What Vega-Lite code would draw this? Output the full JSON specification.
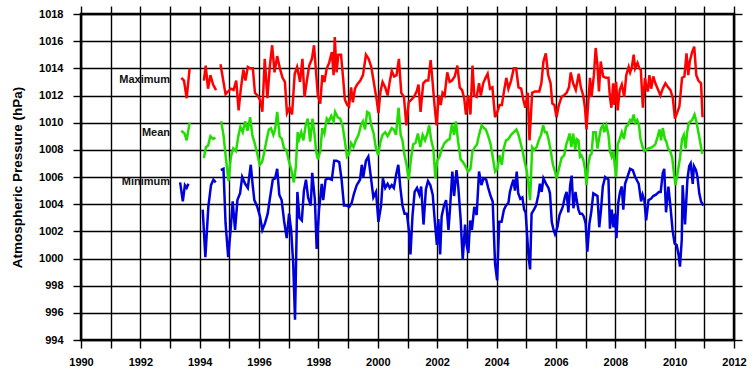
{
  "$schema": "https://vega.github.io/schema/vega-lite/v6.json",
  "width": 653,
  "height": 326,
  "autosize": "none",
  "padding": {"left": 81, "top": 14, "right": 18, "bottom": 39},
  "background": "white",
  "config": {
    "view": {"stroke": "black", "strokeWidth": 2.5},
    "font": "Liberation Sans",
    "axis": {
      "gridColor": "black", "gridWidth": 1.4, "gridOpacity": 1,
      "tickColor": "black", "tickWidth": 1.4, "tickSize": 8,
      "domain": false,
      "labelFont": "Liberation Sans", "labelFontWeight": "bold", "labelFontSize": 11, "labelColor": "black",
      "titleFont": "Liberation Sans", "titleFontWeight": "bold", "titleFontSize": 13.5, "titleColor": "black"
    }
  },
  "datasets": {
    "maximum": [
      {"year":1993.38,"value":1013.3,"seg":1},{"year":1993.47,"value":1013.1,"seg":1},{"year":1993.56,"value":1011.8,"seg":1},{"year":1993.66,"value":1014.0,"seg":1},
      {"year":1994.14,"value":1013.1,"seg":2},{"year":1994.20,"value":1014.2,"seg":2},{"year":1994.28,"value":1012.5,"seg":2},{"year":1994.36,"value":1013.5,"seg":2},{"year":1994.45,"value":1012.8,"seg":2},{"year":1994.55,"value":1012.4,"seg":2},
      {"year":1994.70,"value":1014.3,"seg":3},{"year":1994.87,"value":1012.1,"seg":3},{"year":1994.96,"value":1012.3,"seg":3},{"year":1995.05,"value":1012.5,"seg":3},{"year":1995.14,"value":1012.4,"seg":3},{"year":1995.23,"value":1013.1,"seg":3},{"year":1995.31,"value":1010.9,"seg":3},{"year":1995.38,"value":1012.4,"seg":3},{"year":1995.47,"value":1013.9,"seg":3},{"year":1995.54,"value":1013.1,"seg":3},{"year":1995.62,"value":1014.1,"seg":3},{"year":1995.70,"value":1014.0,"seg":3},{"year":1995.79,"value":1014.0,"seg":3},{"year":1995.86,"value":1012.2,"seg":3},{"year":1995.95,"value":1012.0,"seg":3},
      {"year":1996.03,"value":1011.7,"seg":3},{"year":1996.11,"value":1010.8,"seg":3},{"year":1996.19,"value":1014.7,"seg":3},{"year":1996.28,"value":1011.8,"seg":3},{"year":1996.36,"value":1014.1,"seg":3},{"year":1996.44,"value":1015.7,"seg":3},{"year":1996.52,"value":1013.7,"seg":3},{"year":1996.61,"value":1014.9,"seg":3},{"year":1996.70,"value":1014.0,"seg":3},{"year":1996.79,"value":1013.3,"seg":3},{"year":1996.87,"value":1013.0,"seg":3},{"year":1996.94,"value":1010.7,"seg":3},
      {"year":1997.03,"value":1011.1,"seg":3},{"year":1997.11,"value":1010.6,"seg":3},{"year":1997.20,"value":1013.6,"seg":3},{"year":1997.28,"value":1014.1,"seg":3},{"year":1997.38,"value":1013.0,"seg":3},{"year":1997.46,"value":1014.7,"seg":3},{"year":1997.53,"value":1011.9,"seg":3},{"year":1997.61,"value":1013.1,"seg":3},{"year":1997.69,"value":1014.2,"seg":3},{"year":1997.78,"value":1014.7,"seg":3},{"year":1997.85,"value":1015.7,"seg":3},{"year":1997.91,"value":1014.0,"seg":3},{"year":1997.98,"value":1012.0,"seg":3},
      {"year":1998.06,"value":1011.4,"seg":3},{"year":1998.13,"value":1013.5,"seg":3},{"year":1998.20,"value":1013.0,"seg":3},{"year":1998.28,"value":1014.0,"seg":3},{"year":1998.36,"value":1014.4,"seg":3},{"year":1998.45,"value":1015.2,"seg":3},{"year":1998.51,"value":1013.5,"seg":3},{"year":1998.55,"value":1016.3,"seg":3},{"year":1998.61,"value":1013.7,"seg":3},{"year":1998.67,"value":1015.0,"seg":3},{"year":1998.76,"value":1015.0,"seg":3},{"year":1998.83,"value":1013.3,"seg":3},{"year":1998.89,"value":1011.7,"seg":3},{"year":1998.97,"value":1011.3,"seg":3},
      {"year":1999.03,"value":1011.2,"seg":3},{"year":1999.10,"value":1012.6,"seg":3},{"year":1999.16,"value":1011.5,"seg":3},{"year":1999.23,"value":1012.5,"seg":3},{"year":1999.30,"value":1012.8,"seg":3},{"year":1999.41,"value":1013.1,"seg":3},{"year":1999.50,"value":1013.5,"seg":3},{"year":1999.60,"value":1015.0,"seg":3},{"year":1999.69,"value":1014.7,"seg":3},{"year":1999.78,"value":1014.1,"seg":3},{"year":1999.87,"value":1012.9,"seg":3},{"year":1999.96,"value":1011.7,"seg":3},
      {"year":2000.02,"value":1010.7,"seg":3},{"year":2000.09,"value":1012.3,"seg":3},{"year":2000.16,"value":1013.0,"seg":3},{"year":2000.25,"value":1012.6,"seg":3},{"year":2000.33,"value":1012.0,"seg":3},{"year":2000.40,"value":1013.0,"seg":3},{"year":2000.47,"value":1013.8,"seg":3},{"year":2000.55,"value":1013.4,"seg":3},{"year":2000.63,"value":1013.5,"seg":3},{"year":2000.71,"value":1014.7,"seg":3},{"year":2000.79,"value":1012.2,"seg":3},{"year":2000.88,"value":1011.9,"seg":3},{"year":2000.96,"value":1009.8,"seg":3},
      {"year":2001.04,"value":1011.5,"seg":3},{"year":2001.13,"value":1011.7,"seg":3},{"year":2001.22,"value":1011.9,"seg":3},{"year":2001.31,"value":1012.3,"seg":3},{"year":2001.37,"value":1012.8,"seg":3},{"year":2001.44,"value":1010.8,"seg":3},{"year":2001.53,"value":1012.9,"seg":3},{"year":2001.62,"value":1013.1,"seg":3},{"year":2001.70,"value":1013.1,"seg":3},{"year":2001.78,"value":1014.6,"seg":3},{"year":2001.85,"value":1012.9,"seg":3},{"year":2001.91,"value":1011.3,"seg":3},{"year":2001.98,"value":1009.8,"seg":3},
      {"year":2002.05,"value":1012.0,"seg":3},{"year":2002.12,"value":1011.3,"seg":3},{"year":2002.18,"value":1012.2,"seg":3},{"year":2002.25,"value":1012.0,"seg":3},{"year":2002.34,"value":1013.7,"seg":3},{"year":2002.42,"value":1013.0,"seg":3},{"year":2002.50,"value":1013.1,"seg":3},{"year":2002.59,"value":1013.4,"seg":3},{"year":2002.68,"value":1014.2,"seg":3},{"year":2002.76,"value":1012.6,"seg":3},{"year":2002.84,"value":1012.4,"seg":3},{"year":2002.91,"value":1011.8,"seg":3},{"year":2002.97,"value":1010.6,"seg":3},
      {"year":2003.04,"value":1012.0,"seg":3},{"year":2003.12,"value":1010.6,"seg":3},{"year":2003.19,"value":1014.2,"seg":3},{"year":2003.25,"value":1012.0,"seg":3},{"year":2003.33,"value":1011.9,"seg":3},{"year":2003.41,"value":1012.9,"seg":3},{"year":2003.47,"value":1012.0,"seg":3},{"year":2003.55,"value":1012.9,"seg":3},{"year":2003.63,"value":1013.3,"seg":3},{"year":2003.70,"value":1013.6,"seg":3},{"year":2003.78,"value":1012.5,"seg":3},{"year":2003.86,"value":1012.6,"seg":3},{"year":2003.95,"value":1010.4,"seg":3},
      {"year":2004.03,"value":1010.8,"seg":3},{"year":2004.10,"value":1011.3,"seg":3},{"year":2004.18,"value":1011.3,"seg":3},{"year":2004.25,"value":1012.3,"seg":3},{"year":2004.33,"value":1013.3,"seg":3},{"year":2004.40,"value":1012.5,"seg":3},{"year":2004.49,"value":1013.1,"seg":3},{"year":2004.58,"value":1014.0,"seg":3},{"year":2004.66,"value":1014.0,"seg":3},{"year":2004.74,"value":1012.6,"seg":3},{"year":2004.83,"value":1012.5,"seg":3},{"year":2004.90,"value":1011.7,"seg":3},{"year":2004.97,"value":1011.1,"seg":3},
      {"year":2005.05,"value":1012.2,"seg":3},{"year":2005.11,"value":1008.7,"seg":3},{"year":2005.20,"value":1012.2,"seg":3},{"year":2005.29,"value":1012.3,"seg":3},{"year":2005.37,"value":1012.3,"seg":3},{"year":2005.44,"value":1012.3,"seg":3},{"year":2005.51,"value":1012.9,"seg":3},{"year":2005.58,"value":1014.5,"seg":3},{"year":2005.66,"value":1015.1,"seg":3},{"year":2005.74,"value":1013.5,"seg":3},{"year":2005.82,"value":1012.9,"seg":3},{"year":2005.88,"value":1011.4,"seg":3},{"year":2005.95,"value":1011.3,"seg":3},
      {"year":2006.02,"value":1010.4,"seg":3},{"year":2006.10,"value":1011.3,"seg":3},{"year":2006.19,"value":1011.9,"seg":3},{"year":2006.27,"value":1012.0,"seg":3},{"year":2006.36,"value":1012.2,"seg":3},{"year":2006.44,"value":1012.6,"seg":3},{"year":2006.50,"value":1013.7,"seg":3},{"year":2006.58,"value":1012.9,"seg":3},{"year":2006.67,"value":1012.4,"seg":3},{"year":2006.77,"value":1013.6,"seg":3},{"year":2006.84,"value":1012.6,"seg":3},{"year":2006.92,"value":1012.0,"seg":3},{"year":2006.98,"value":1011.1,"seg":3},
      {"year":2007.03,"value":1009.5,"seg":3},{"year":2007.09,"value":1011.5,"seg":3},{"year":2007.15,"value":1013.3,"seg":3},{"year":2007.20,"value":1011.9,"seg":3},{"year":2007.28,"value":1013.5,"seg":3},{"year":2007.34,"value":1015.5,"seg":3},{"year":2007.40,"value":1014.2,"seg":3},{"year":2007.45,"value":1012.3,"seg":3},{"year":2007.51,"value":1014.5,"seg":3},{"year":2007.59,"value":1013.4,"seg":3},{"year":2007.68,"value":1013.3,"seg":3},{"year":2007.77,"value":1013.3,"seg":3},{"year":2007.82,"value":1011.9,"seg":3},{"year":2007.87,"value":1011.1,"seg":3},{"year":2007.93,"value":1012.9,"seg":3},{"year":2007.97,"value":1011.3,"seg":3},
      {"year":2008.03,"value":1013.0,"seg":3},{"year":2008.08,"value":1010.9,"seg":3},{"year":2008.15,"value":1012.4,"seg":3},{"year":2008.22,"value":1012.8,"seg":3},{"year":2008.30,"value":1011.9,"seg":3},{"year":2008.37,"value":1013.5,"seg":3},{"year":2008.45,"value":1014.1,"seg":3},{"year":2008.50,"value":1013.7,"seg":3},{"year":2008.56,"value":1014.1,"seg":3},{"year":2008.62,"value":1015.0,"seg":3},{"year":2008.67,"value":1014.0,"seg":3},{"year":2008.75,"value":1014.4,"seg":3},{"year":2008.81,"value":1014.0,"seg":3},{"year":2008.86,"value":1013.9,"seg":3},{"year":2008.93,"value":1011.1,"seg":3},
      {"year":2009.00,"value":1013.3,"seg":3},{"year":2009.06,"value":1012.5,"seg":3},{"year":2009.10,"value":1012.3,"seg":3},{"year":2009.15,"value":1013.5,"seg":3},{"year":2009.21,"value":1012.5,"seg":3},{"year":2009.28,"value":1013.4,"seg":3},{"year":2009.35,"value":1012.9,"seg":3},{"year":2009.43,"value":1012.5,"seg":3},{"year":2009.52,"value":1012.0,"seg":3},{"year":2009.60,"value":1012.5,"seg":3},{"year":2009.69,"value":1012.9,"seg":3},{"year":2009.78,"value":1012.6,"seg":3},{"year":2009.86,"value":1012.4,"seg":3},{"year":2009.94,"value":1011.8,"seg":3},
      {"year":2010.01,"value":1010.3,"seg":3},{"year":2010.08,"value":1010.7,"seg":3},{"year":2010.16,"value":1011.2,"seg":3},{"year":2010.25,"value":1013.3,"seg":3},{"year":2010.33,"value":1013.4,"seg":3},{"year":2010.40,"value":1015.1,"seg":3},{"year":2010.46,"value":1013.5,"seg":3},{"year":2010.51,"value":1014.5,"seg":3},{"year":2010.59,"value":1015.2,"seg":3},{"year":2010.66,"value":1015.6,"seg":3},{"year":2010.73,"value":1013.5,"seg":3},{"year":2010.80,"value":1013.1,"seg":3},{"year":2010.89,"value":1012.9,"seg":3},{"year":2010.94,"value":1010.4,"seg":3}
    ],
    "mean": [
      {"year":1993.38,"value":1009.4,"seg":1},{"year":1993.49,"value":1009.2,"seg":1},{"year":1993.56,"value":1008.7,"seg":1},{"year":1993.66,"value":1010.0,"seg":1},
      {"year":1994.14,"value":1007.4,"seg":2},{"year":1994.21,"value":1008.2,"seg":2},{"year":1994.28,"value":1008.3,"seg":2},{"year":1994.36,"value":1009.0,"seg":2},{"year":1994.45,"value":1008.8,"seg":2},{"year":1994.53,"value":1008.9,"seg":2},
      {"year":1994.72,"value":1010.1,"seg":3},{"year":1994.80,"value":1009.1,"seg":3},{"year":1994.88,"value":1007.4,"seg":3},{"year":1994.97,"value":1005.7,"seg":3},{"year":1995.05,"value":1007.5,"seg":3},{"year":1995.13,"value":1008.1,"seg":3},{"year":1995.22,"value":1007.9,"seg":3},{"year":1995.30,"value":1009.0,"seg":3},{"year":1995.37,"value":1009.7,"seg":3},{"year":1995.45,"value":1009.3,"seg":3},{"year":1995.53,"value":1010.1,"seg":3},{"year":1995.61,"value":1009.4,"seg":3},{"year":1995.70,"value":1010.4,"seg":3},{"year":1995.77,"value":1009.1,"seg":3},{"year":1995.85,"value":1008.5,"seg":3},{"year":1995.94,"value":1007.7,"seg":3},
      {"year":1996.02,"value":1006.9,"seg":3},{"year":1996.10,"value":1007.1,"seg":3},{"year":1996.18,"value":1007.9,"seg":3},{"year":1996.25,"value":1008.7,"seg":3},{"year":1996.33,"value":1009.5,"seg":3},{"year":1996.40,"value":1009.6,"seg":3},{"year":1996.48,"value":1009.1,"seg":3},{"year":1996.54,"value":1009.5,"seg":3},{"year":1996.61,"value":1010.8,"seg":3},{"year":1996.69,"value":1009.0,"seg":3},{"year":1996.77,"value":1008.8,"seg":3},{"year":1996.84,"value":1008.1,"seg":3},{"year":1996.92,"value":1008.0,"seg":3},
      {"year":1997.00,"value":1007.2,"seg":3},{"year":1997.08,"value":1006.6,"seg":3},{"year":1997.17,"value":1005.6,"seg":3},{"year":1997.24,"value":1006.8,"seg":3},{"year":1997.30,"value":1009.3,"seg":3},{"year":1997.35,"value":1008.8,"seg":3},{"year":1997.42,"value":1009.3,"seg":3},{"year":1997.49,"value":1008.7,"seg":3},{"year":1997.57,"value":1009.8,"seg":3},{"year":1997.64,"value":1010.3,"seg":3},{"year":1997.72,"value":1008.6,"seg":3},{"year":1997.80,"value":1010.3,"seg":3},{"year":1997.87,"value":1009.1,"seg":3},{"year":1997.92,"value":1007.9,"seg":3},{"year":1997.98,"value":1007.3,"seg":3},
      {"year":1998.06,"value":1007.9,"seg":3},{"year":1998.13,"value":1009.6,"seg":3},{"year":1998.20,"value":1009.2,"seg":3},{"year":1998.28,"value":1010.3,"seg":3},{"year":1998.35,"value":1010.1,"seg":3},{"year":1998.43,"value":1010.5,"seg":3},{"year":1998.51,"value":1010.1,"seg":3},{"year":1998.56,"value":1010.8,"seg":3},{"year":1998.65,"value":1010.4,"seg":3},{"year":1998.73,"value":1010.3,"seg":3},{"year":1998.81,"value":1009.8,"seg":3},{"year":1998.88,"value":1008.8,"seg":3},{"year":1998.96,"value":1007.5,"seg":3},
      {"year":1999.03,"value":1007.7,"seg":3},{"year":1999.10,"value":1008.5,"seg":3},{"year":1999.18,"value":1008.2,"seg":3},{"year":1999.26,"value":1008.7,"seg":3},{"year":1999.35,"value":1009.1,"seg":3},{"year":1999.43,"value":1009.8,"seg":3},{"year":1999.50,"value":1010.1,"seg":3},{"year":1999.57,"value":1009.5,"seg":3},{"year":1999.64,"value":1010.8,"seg":3},{"year":1999.71,"value":1010.7,"seg":3},{"year":1999.78,"value":1009.8,"seg":3},{"year":1999.86,"value":1009.2,"seg":3},{"year":1999.93,"value":1008.2,"seg":3},
      {"year":2000.01,"value":1007.6,"seg":3},{"year":2000.09,"value":1008.6,"seg":3},{"year":2000.16,"value":1009.1,"seg":3},{"year":2000.25,"value":1009.3,"seg":3},{"year":2000.33,"value":1009.0,"seg":3},{"year":2000.40,"value":1009.3,"seg":3},{"year":2000.47,"value":1009.6,"seg":3},{"year":2000.54,"value":1009.5,"seg":3},{"year":2000.61,"value":1009.1,"seg":3},{"year":2000.70,"value":1011.1,"seg":3},{"year":2000.77,"value":1009.1,"seg":3},{"year":2000.83,"value":1008.7,"seg":3},{"year":2000.90,"value":1007.6,"seg":3},{"year":2000.97,"value":1006.9,"seg":3},
      {"year":2001.04,"value":1005.8,"seg":3},{"year":2001.12,"value":1007.4,"seg":3},{"year":2001.19,"value":1008.4,"seg":3},{"year":2001.27,"value":1008.5,"seg":3},{"year":2001.35,"value":1009.2,"seg":3},{"year":2001.43,"value":1008.2,"seg":3},{"year":2001.51,"value":1009.1,"seg":3},{"year":2001.59,"value":1008.7,"seg":3},{"year":2001.67,"value":1009.2,"seg":3},{"year":2001.73,"value":1009.8,"seg":3},{"year":2001.80,"value":1008.7,"seg":3},{"year":2001.87,"value":1008.1,"seg":3},{"year":2001.94,"value":1005.9,"seg":3},
      {"year":2002.00,"value":1007.2,"seg":3},{"year":2002.08,"value":1007.5,"seg":3},{"year":2002.16,"value":1008.1,"seg":3},{"year":2002.25,"value":1008.5,"seg":3},{"year":2002.34,"value":1008.7,"seg":3},{"year":2002.42,"value":1008.8,"seg":3},{"year":2002.50,"value":1009.9,"seg":3},{"year":2002.57,"value":1009.1,"seg":3},{"year":2002.63,"value":1010.1,"seg":3},{"year":2002.70,"value":1008.7,"seg":3},{"year":2002.79,"value":1007.3,"seg":3},{"year":2002.87,"value":1007.1,"seg":3},{"year":2002.95,"value":1006.8,"seg":3},
      {"year":2003.04,"value":1006.4,"seg":3},{"year":2003.12,"value":1006.6,"seg":3},{"year":2003.19,"value":1007.9,"seg":3},{"year":2003.27,"value":1008.2,"seg":3},{"year":2003.34,"value":1008.4,"seg":3},{"year":2003.41,"value":1009.1,"seg":3},{"year":2003.50,"value":1009.8,"seg":3},{"year":2003.58,"value":1009.6,"seg":3},{"year":2003.64,"value":1009.5,"seg":3},{"year":2003.72,"value":1009.0,"seg":3},{"year":2003.80,"value":1008.4,"seg":3},{"year":2003.87,"value":1007.5,"seg":3},{"year":2003.95,"value":1006.4,"seg":3},
      {"year":2004.03,"value":1006.6,"seg":3},{"year":2004.10,"value":1007.6,"seg":3},{"year":2004.18,"value":1006.9,"seg":3},{"year":2004.24,"value":1008.1,"seg":3},{"year":2004.32,"value":1008.7,"seg":3},{"year":2004.40,"value":1008.8,"seg":3},{"year":2004.49,"value":1009.1,"seg":3},{"year":2004.58,"value":1009.3,"seg":3},{"year":2004.67,"value":1009.5,"seg":3},{"year":2004.74,"value":1009.1,"seg":3},{"year":2004.81,"value":1008.5,"seg":3},{"year":2004.88,"value":1007.9,"seg":3},{"year":2004.95,"value":1007.1,"seg":3},
      {"year":2005.02,"value":1006.4,"seg":3},{"year":2005.08,"value":1005.4,"seg":3},{"year":2005.13,"value":1004.3,"seg":3},{"year":2005.20,"value":1008.2,"seg":3},{"year":2005.27,"value":1008.0,"seg":3},{"year":2005.35,"value":1008.2,"seg":3},{"year":2005.42,"value":1008.7,"seg":3},{"year":2005.50,"value":1009.1,"seg":3},{"year":2005.57,"value":1009.8,"seg":3},{"year":2005.63,"value":1009.3,"seg":3},{"year":2005.69,"value":1009.3,"seg":3},{"year":2005.76,"value":1008.7,"seg":3},{"year":2005.82,"value":1008.0,"seg":3},{"year":2005.90,"value":1006.9,"seg":3},{"year":2005.97,"value":1006.4,"seg":3},
      {"year":2006.02,"value":1005.9,"seg":3},{"year":2006.10,"value":1006.6,"seg":3},{"year":2006.19,"value":1007.4,"seg":3},{"year":2006.28,"value":1007.6,"seg":3},{"year":2006.35,"value":1008.4,"seg":3},{"year":2006.41,"value":1008.8,"seg":3},{"year":2006.46,"value":1009.2,"seg":3},{"year":2006.52,"value":1008.2,"seg":3},{"year":2006.58,"value":1009.2,"seg":3},{"year":2006.65,"value":1008.0,"seg":3},{"year":2006.70,"value":1008.8,"seg":3},{"year":2006.76,"value":1008.7,"seg":3},{"year":2006.81,"value":1007.5,"seg":3},{"year":2006.86,"value":1007.6,"seg":3},{"year":2006.92,"value":1007.3,"seg":3},{"year":2006.98,"value":1006.6,"seg":3},
      {"year":2007.03,"value":1005.4,"seg":3},{"year":2007.09,"value":1006.9,"seg":3},{"year":2007.15,"value":1007.6,"seg":3},{"year":2007.20,"value":1007.7,"seg":3},{"year":2007.26,"value":1009.3,"seg":3},{"year":2007.34,"value":1009.3,"seg":3},{"year":2007.40,"value":1008.1,"seg":3},{"year":2007.45,"value":1008.8,"seg":3},{"year":2007.52,"value":1009.6,"seg":3},{"year":2007.59,"value":1009.8,"seg":3},{"year":2007.63,"value":1009.3,"seg":3},{"year":2007.70,"value":1009.8,"seg":3},{"year":2007.77,"value":1009.1,"seg":3},{"year":2007.82,"value":1007.9,"seg":3},{"year":2007.88,"value":1007.5,"seg":3},{"year":2007.94,"value":1007.9,"seg":3},{"year":2007.98,"value":1006.9,"seg":3},
      {"year":2008.03,"value":1006.0,"seg":3},{"year":2008.08,"value":1008.4,"seg":3},{"year":2008.15,"value":1008.8,"seg":3},{"year":2008.22,"value":1009.3,"seg":3},{"year":2008.29,"value":1008.8,"seg":3},{"year":2008.36,"value":1009.7,"seg":3},{"year":2008.42,"value":1009.8,"seg":3},{"year":2008.50,"value":1010.2,"seg":3},{"year":2008.56,"value":1010.1,"seg":3},{"year":2008.62,"value":1010.6,"seg":3},{"year":2008.67,"value":1010.0,"seg":3},{"year":2008.74,"value":1010.2,"seg":3},{"year":2008.80,"value":1009.8,"seg":3},{"year":2008.85,"value":1008.8,"seg":3},{"year":2008.92,"value":1008.2,"seg":3},{"year":2008.98,"value":1007.9,"seg":3},
      {"year":2009.03,"value":1008.0,"seg":3},{"year":2009.12,"value":1008.1,"seg":3},{"year":2009.24,"value":1008.2,"seg":3},{"year":2009.35,"value":1008.4,"seg":3},{"year":2009.43,"value":1009.0,"seg":3},{"year":2009.49,"value":1009.5,"seg":3},{"year":2009.54,"value":1008.7,"seg":3},{"year":2009.60,"value":1009.6,"seg":3},{"year":2009.67,"value":1008.8,"seg":3},{"year":2009.72,"value":1008.6,"seg":3},{"year":2009.78,"value":1008.1,"seg":3},{"year":2009.85,"value":1007.9,"seg":3},{"year":2009.92,"value":1007.4,"seg":3},{"year":2009.97,"value":1006.4,"seg":3},
      {"year":2010.03,"value":1005.4,"seg":3},{"year":2010.10,"value":1006.3,"seg":3},{"year":2010.18,"value":1007.4,"seg":3},{"year":2010.25,"value":1008.8,"seg":3},{"year":2010.31,"value":1009.1,"seg":3},{"year":2010.37,"value":1008.1,"seg":3},{"year":2010.42,"value":1009.3,"seg":3},{"year":2010.48,"value":1010.0,"seg":3},{"year":2010.54,"value":1010.1,"seg":3},{"year":2010.59,"value":1010.2,"seg":3},{"year":2010.67,"value":1010.6,"seg":3},{"year":2010.73,"value":1010.1,"seg":3},{"year":2010.80,"value":1009.3,"seg":3},{"year":2010.86,"value":1008.6,"seg":3},{"year":2010.93,"value":1007.7,"seg":3}
    ],
    "minimum": [
      {"year":1993.34,"value":1005.6,"seg":1},{"year":1993.43,"value":1004.2,"seg":1},{"year":1993.50,"value":1005.4,"seg":1},{"year":1993.56,"value":1005.2,"seg":1},{"year":1993.62,"value":1005.5,"seg":1},
      {"year":1994.10,"value":1003.6,"seg":2},{"year":1994.19,"value":1000.1,"seg":2},{"year":1994.29,"value":1003.8,"seg":2},{"year":1994.38,"value":1005.4,"seg":2},{"year":1994.46,"value":1005.8,"seg":2},{"year":1994.54,"value":1005.6,"seg":2},
      {"year":1994.71,"value":1006.5,"seg":3},{"year":1994.80,"value":1006.6,"seg":3},{"year":1994.87,"value":1002.6,"seg":3},{"year":1994.96,"value":1000.1,"seg":3},{"year":1995.04,"value":1002.1,"seg":3},{"year":1995.11,"value":1004.2,"seg":3},{"year":1995.19,"value":1002.1,"seg":3},{"year":1995.27,"value":1004.3,"seg":3},{"year":1995.36,"value":1004.8,"seg":3},{"year":1995.43,"value":1006.0,"seg":3},{"year":1995.53,"value":1005.5,"seg":3},{"year":1995.62,"value":1005.2,"seg":3},{"year":1995.72,"value":1006.9,"seg":3},{"year":1995.78,"value":1005.5,"seg":3},{"year":1995.84,"value":1004.3,"seg":3},{"year":1995.94,"value":1003.8,"seg":3},
      {"year":1996.03,"value":1003.1,"seg":3},{"year":1996.11,"value":1002.1,"seg":3},{"year":1996.20,"value":1002.6,"seg":3},{"year":1996.29,"value":1003.3,"seg":3},{"year":1996.37,"value":1004.5,"seg":3},{"year":1996.46,"value":1005.8,"seg":3},{"year":1996.54,"value":1005.9,"seg":3},{"year":1996.61,"value":1006.6,"seg":3},{"year":1996.68,"value":1004.7,"seg":3},{"year":1996.76,"value":1004.3,"seg":3},{"year":1996.84,"value":1002.8,"seg":3},{"year":1996.93,"value":1001.5,"seg":3},
      {"year":1997.01,"value":1003.3,"seg":3},{"year":1997.08,"value":1002.1,"seg":3},{"year":1997.15,"value":999.6,"seg":3},{"year":1997.21,"value":995.5,"seg":3},{"year":1997.29,"value":1004.9,"seg":3},{"year":1997.36,"value":1003.0,"seg":3},{"year":1997.44,"value":1002.8,"seg":3},{"year":1997.51,"value":1005.0,"seg":3},{"year":1997.58,"value":1005.8,"seg":3},{"year":1997.65,"value":1004.5,"seg":3},{"year":1997.74,"value":1003.9,"seg":3},{"year":1997.79,"value":1006.3,"seg":3},{"year":1997.88,"value":1004.3,"seg":3},{"year":1997.94,"value":1000.7,"seg":3},
      {"year":1998.02,"value":1003.6,"seg":3},{"year":1998.11,"value":1005.5,"seg":3},{"year":1998.16,"value":1004.3,"seg":3},{"year":1998.24,"value":1005.8,"seg":3},{"year":1998.33,"value":1005.9,"seg":3},{"year":1998.45,"value":1005.8,"seg":3},{"year":1998.53,"value":1007.2,"seg":3},{"year":1998.61,"value":1007.2,"seg":3},{"year":1998.70,"value":1007.1,"seg":3},{"year":1998.78,"value":1005.8,"seg":3},{"year":1998.86,"value":1003.9,"seg":3},{"year":1998.95,"value":1003.9,"seg":3},
      {"year":1999.04,"value":1003.8,"seg":3},{"year":1999.12,"value":1004.1,"seg":3},{"year":1999.20,"value":1004.8,"seg":3},{"year":1999.29,"value":1005.4,"seg":3},{"year":1999.40,"value":1005.8,"seg":3},{"year":1999.46,"value":1006.9,"seg":3},{"year":1999.51,"value":1006.0,"seg":3},{"year":1999.60,"value":1007.2,"seg":3},{"year":1999.68,"value":1007.5,"seg":3},{"year":1999.76,"value":1006.1,"seg":3},{"year":1999.85,"value":1004.5,"seg":3},{"year":1999.94,"value":1004.9,"seg":3},
      {"year":2000.02,"value":1002.7,"seg":3},{"year":2000.11,"value":1003.9,"seg":3},{"year":2000.17,"value":1005.9,"seg":3},{"year":2000.25,"value":1005.2,"seg":3},{"year":2000.33,"value":1005.5,"seg":3},{"year":2000.40,"value":1005.2,"seg":3},{"year":2000.47,"value":1005.4,"seg":3},{"year":2000.54,"value":1005.2,"seg":3},{"year":2000.62,"value":1006.2,"seg":3},{"year":2000.69,"value":1006.9,"seg":3},{"year":2000.76,"value":1005.2,"seg":3},{"year":2000.83,"value":1003.9,"seg":3},{"year":2000.90,"value":1003.3,"seg":3},{"year":2000.98,"value":1003.3,"seg":3},
      {"year":2001.05,"value":1002.0,"seg":3},{"year":2001.10,"value":1000.3,"seg":3},{"year":2001.17,"value":1003.2,"seg":3},{"year":2001.24,"value":1004.9,"seg":3},{"year":2001.32,"value":1005.2,"seg":3},{"year":2001.40,"value":1004.7,"seg":3},{"year":2001.46,"value":1005.3,"seg":3},{"year":2001.54,"value":1002.5,"seg":3},{"year":2001.62,"value":1005.1,"seg":3},{"year":2001.69,"value":1005.7,"seg":3},{"year":2001.77,"value":1005.4,"seg":3},{"year":2001.85,"value":1004.7,"seg":3},{"year":2001.91,"value":1003.0,"seg":3},{"year":2001.99,"value":1001.0,"seg":3},
      {"year":2002.04,"value":1002.9,"seg":3},{"year":2002.10,"value":1000.3,"seg":3},{"year":2002.15,"value":1003.1,"seg":3},{"year":2002.23,"value":1003.9,"seg":3},{"year":2002.30,"value":1004.3,"seg":3},{"year":2002.38,"value":1002.1,"seg":3},{"year":2002.43,"value":1003.6,"seg":3},{"year":2002.51,"value":1006.4,"seg":3},{"year":2002.57,"value":1004.6,"seg":3},{"year":2002.65,"value":1006.5,"seg":3},{"year":2002.71,"value":1005.3,"seg":3},{"year":2002.79,"value":1002.9,"seg":3},{"year":2002.86,"value":999.9,"seg":3},{"year":2002.94,"value":1002.5,"seg":3},{"year":2002.99,"value":1001.0,"seg":3},
      {"year":2003.05,"value":1000.4,"seg":3},{"year":2003.11,"value":1002.8,"seg":3},{"year":2003.17,"value":1002.1,"seg":3},{"year":2003.25,"value":1003.8,"seg":3},{"year":2003.33,"value":1003.2,"seg":3},{"year":2003.41,"value":1006.4,"seg":3},{"year":2003.49,"value":1005.4,"seg":3},{"year":2003.56,"value":1005.9,"seg":3},{"year":2003.65,"value":1005.8,"seg":3},{"year":2003.72,"value":1005.2,"seg":3},{"year":2003.80,"value":1004.6,"seg":3},{"year":2003.87,"value":1004.2,"seg":3},{"year":2003.95,"value":999.6,"seg":3},
      {"year":2004.02,"value":998.4,"seg":3},{"year":2004.09,"value":1002.7,"seg":3},{"year":2004.17,"value":1002.7,"seg":3},{"year":2004.25,"value":1003.6,"seg":3},{"year":2004.32,"value":1003.9,"seg":3},{"year":2004.40,"value":1004.1,"seg":3},{"year":2004.45,"value":1004.9,"seg":3},{"year":2004.51,"value":1005.4,"seg":3},{"year":2004.57,"value":1005.8,"seg":3},{"year":2004.62,"value":1005.0,"seg":3},{"year":2004.68,"value":1006.4,"seg":3},{"year":2004.73,"value":1004.8,"seg":3},{"year":2004.80,"value":1004.4,"seg":3},{"year":2004.87,"value":1004.5,"seg":3},{"year":2004.93,"value":1003.6,"seg":3},{"year":2004.98,"value":1003.4,"seg":3},
      {"year":2005.04,"value":1001.4,"seg":3},{"year":2005.08,"value":1000.1,"seg":3},{"year":2005.13,"value":999.2,"seg":3},{"year":2005.18,"value":1003.3,"seg":3},{"year":2005.26,"value":1003.6,"seg":3},{"year":2005.33,"value":1003.9,"seg":3},{"year":2005.41,"value":1004.7,"seg":3},{"year":2005.46,"value":1005.5,"seg":3},{"year":2005.52,"value":1004.9,"seg":3},{"year":2005.58,"value":1005.9,"seg":3},{"year":2005.67,"value":1005.5,"seg":3},{"year":2005.75,"value":1005.2,"seg":3},{"year":2005.80,"value":1004.8,"seg":3},{"year":2005.86,"value":1002.7,"seg":3},{"year":2005.91,"value":1002.2,"seg":3},{"year":2005.97,"value":1001.8,"seg":3},
      {"year":2006.05,"value":1002.3,"seg":3},{"year":2006.12,"value":1003.2,"seg":3},{"year":2006.23,"value":1003.8,"seg":3},{"year":2006.31,"value":1004.6,"seg":3},{"year":2006.36,"value":1004.9,"seg":3},{"year":2006.42,"value":1003.4,"seg":3},{"year":2006.48,"value":1005.4,"seg":3},{"year":2006.53,"value":1006.1,"seg":3},{"year":2006.59,"value":1003.7,"seg":3},{"year":2006.66,"value":1004.9,"seg":3},{"year":2006.70,"value":1004.3,"seg":3},{"year":2006.76,"value":1003.6,"seg":3},{"year":2006.81,"value":1003.3,"seg":3},{"year":2006.88,"value":1003.3,"seg":3},{"year":2006.94,"value":1003.1,"seg":3},
      {"year":2007.00,"value":1002.6,"seg":3},{"year":2007.06,"value":1000.5,"seg":3},{"year":2007.13,"value":1002.6,"seg":3},{"year":2007.19,"value":1003.4,"seg":3},{"year":2007.26,"value":1004.8,"seg":3},{"year":2007.33,"value":1004.7,"seg":3},{"year":2007.40,"value":1004.6,"seg":3},{"year":2007.46,"value":1002.3,"seg":3},{"year":2007.52,"value":1003.6,"seg":3},{"year":2007.58,"value":1005.3,"seg":3},{"year":2007.66,"value":1006.0,"seg":3},{"year":2007.71,"value":1005.9,"seg":3},{"year":2007.77,"value":1005.8,"seg":3},{"year":2007.82,"value":1002.2,"seg":3},{"year":2007.88,"value":1003.6,"seg":3},{"year":2007.94,"value":1002.3,"seg":3},{"year":2007.99,"value":1003.3,"seg":3},
      {"year":2008.04,"value":1001.5,"seg":3},{"year":2008.10,"value":1004.1,"seg":3},{"year":2008.16,"value":1004.9,"seg":3},{"year":2008.22,"value":1005.3,"seg":3},{"year":2008.27,"value":1003.6,"seg":3},{"year":2008.33,"value":1005.5,"seg":3},{"year":2008.41,"value":1006.0,"seg":3},{"year":2008.50,"value":1006.6,"seg":3},{"year":2008.59,"value":1006.5,"seg":3},{"year":2008.67,"value":1006.0,"seg":3},{"year":2008.72,"value":1005.8,"seg":3},{"year":2008.79,"value":1005.5,"seg":3},{"year":2008.87,"value":1004.2,"seg":3},{"year":2008.92,"value":1004.7,"seg":3},{"year":2008.98,"value":1004.3,"seg":3},
      {"year":2009.04,"value":1002.8,"seg":3},{"year":2009.12,"value":1004.3,"seg":3},{"year":2009.20,"value":1004.4,"seg":3},{"year":2009.28,"value":1004.6,"seg":3},{"year":2009.37,"value":1004.7,"seg":3},{"year":2009.47,"value":1004.9,"seg":3},{"year":2009.53,"value":1004.9,"seg":3},{"year":2009.60,"value":1006.3,"seg":3},{"year":2009.65,"value":1006.6,"seg":3},{"year":2009.71,"value":1003.4,"seg":3},{"year":2009.79,"value":1005.3,"seg":3},{"year":2009.86,"value":1003.8,"seg":3},{"year":2009.93,"value":1002.1,"seg":3},
      {"year":2010.00,"value":1001.1,"seg":3},{"year":2010.07,"value":1001.0,"seg":3},{"year":2010.13,"value":1000.3,"seg":3},{"year":2010.18,"value":999.4,"seg":3},{"year":2010.24,"value":1001.4,"seg":3},{"year":2010.27,"value":1005.4,"seg":3},{"year":2010.35,"value":1002.5,"seg":3},{"year":2010.43,"value":1005.8,"seg":3},{"year":2010.49,"value":1006.8,"seg":3},{"year":2010.54,"value":1007.0,"seg":3},{"year":2010.61,"value":1005.5,"seg":3},{"year":2010.65,"value":1006.8,"seg":3},{"year":2010.72,"value":1006.5,"seg":3},{"year":2010.77,"value":1006.0,"seg":3},{"year":2010.83,"value":1004.8,"seg":3},{"year":2010.89,"value":1004.2,"seg":3},{"year":2010.97,"value":1003.9,"seg":3}
    ],
    "labels": [
      {"label":"Maximum","year":1993.0,"value":1013.15},
      {"label":"Mean","year":1993.0,"value":1009.25},
      {"label":"Minimum","year":1993.0,"value":1005.6}
    ]
  },
  "resolve": {"axis": {"x": "independent", "y": "independent"}},
  "layer": [
    {
      "data": {"name": "maximum"},
      "mark": {"type": "line", "color": "#ff0000", "strokeWidth": 2.5},
      "encoding": {
        "x": {"field": "year", "type": "quantitative",
          "scale": {"domain": [1990, 2012], "nice": false, "zero": false},
          "axis": {"orient": "bottom", "title": null, "grid": true,
            "values": [1990,1991,1992,1993,1994,1995,1996,1997,1998,1999,2000,2001,2002,2003,2004,2005,2006,2007,2008,2009,2010,2011,2012],
            "format": "d", "labelExpr": "datum.value % 2 == 0 ? datum.label : ''",
            "labelPadding": 8, "labelOverlap": false, "labelFlush": false}},
        "y": {"field": "value", "type": "quantitative",
          "scale": {"domain": [994, 1018], "nice": false, "zero": false},
          "axis": {"orient": "left", "title": "Atmospheric Pressure (hPa)", "grid": true,
            "values": [994,996,998,1000,1002,1004,1006,1008,1010,1012,1014,1016,1018],
            "format": "d", "labelPadding": 10, "titlePadding": 14, "labelOverlap": false, "labelFlush": false}},
        "detail": {"field": "seg", "type": "nominal"}
      }
    },
    {
      "data": {"name": "mean"},
      "mark": {"type": "line", "color": "#22dd00", "strokeWidth": 2.5},
      "encoding": {
        "x": {"field": "year", "type": "quantitative",
          "scale": {"domain": [1990, 2012], "nice": false, "zero": false},
          "axis": {"orient": "top", "title": null, "grid": false, "labels": false,
            "values": [1990,1991,1992,1993,1994,1995,1996,1997,1998,1999,2000,2001,2002,2003,2004,2005,2006,2007,2008,2009,2010,2011,2012]}},
        "y": {"field": "value", "type": "quantitative",
          "scale": {"domain": [994, 1018], "nice": false, "zero": false},
          "axis": {"orient": "right", "title": null, "grid": false, "labels": false,
            "values": [994,996,998,1000,1002,1004,1006,1008,1010,1012,1014,1016,1018]}},
        "detail": {"field": "seg", "type": "nominal"}
      }
    },
    {
      "data": {"name": "minimum"},
      "mark": {"type": "line", "color": "#0000dd", "strokeWidth": 2.5},
      "encoding": {
        "x": {"field": "year", "type": "quantitative", "scale": {"domain": [1990, 2012], "nice": false, "zero": false}, "axis": null},
        "y": {"field": "value", "type": "quantitative", "scale": {"domain": [994, 1018], "nice": false, "zero": false}, "axis": null},
        "detail": {"field": "seg", "type": "nominal"}
      }
    },
    {
      "data": {"name": "labels"},
      "mark": {"type": "text", "align": "right", "baseline": "middle", "font": "Liberation Sans", "fontWeight": "bold", "fontSize": 11, "color": "#111111"},
      "encoding": {
        "x": {"field": "year", "type": "quantitative", "scale": {"domain": [1990, 2012], "nice": false, "zero": false}, "axis": null},
        "y": {"field": "value", "type": "quantitative", "scale": {"domain": [994, 1018], "nice": false, "zero": false}, "axis": null},
        "text": {"field": "label", "type": "nominal"}
      }
    }
  ]
}
